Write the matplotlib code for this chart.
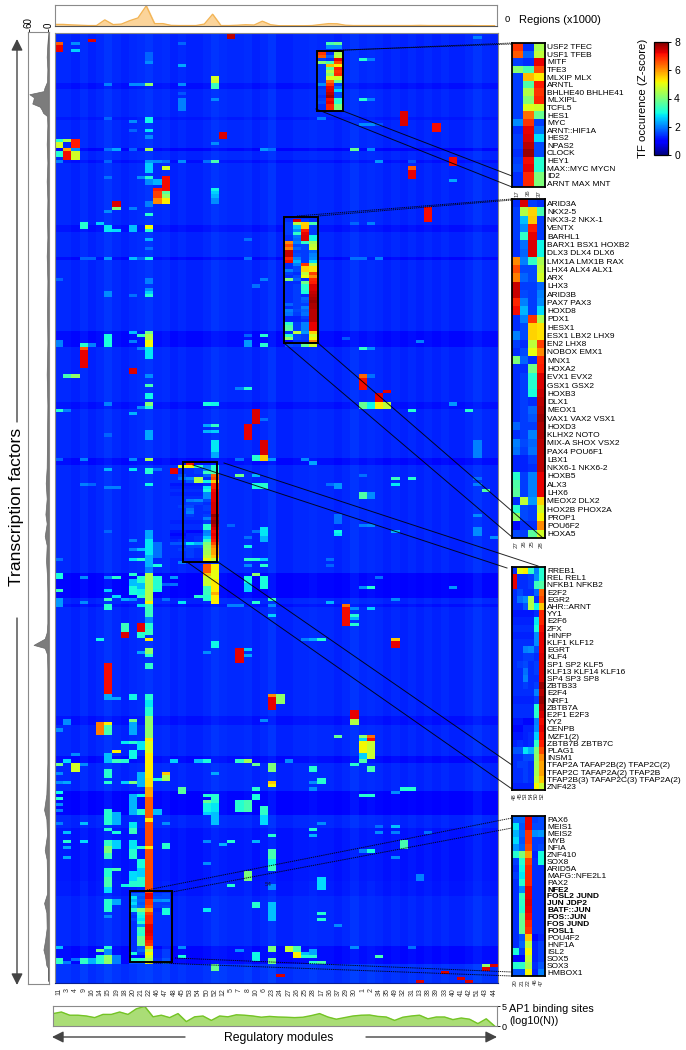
import matplotlib
matplotlib.use("Agg")
import matplotlib.pyplot as plt
import numpy as np
from matplotlib.cm import ScalarMappable
from matplotlib.colors import Normalize
from matplotlib.patches import Rectangle

plt.rcParams['font.family'] = ['Liberation Sans', 'DejaVu Sans']

W, H = 686, 1050
N_ROWS = 306

modules = ["11", "3", "4", "9", "16", "14", "15", "19", "18", "20", "21", "22", "46", "47",
           "48", "45", "53", "54", "50", "52", "12", "5", "7", "8", "10", "6", "23", "24",
           "27", "26", "25", "28", "17", "36", "37", "29", "30", "1", "2", "34", "35", "49",
           "32", "31", "13", "38", "39", "33", "40", "41", "42", "51", "43", "44"]

regions = [1.0, 1.0, 0.7, 0.5, 0.3, 0.3, 3.8, 0.9, 1.2, 3.3, 5.0, 12.5, 1.5, 1.5, 0.4, 0.3,
           0.3, 0.3, 1.2, 7.3, 0.3, 0.3, 0.5, 0.8, 0.6, 3.0, 0.8, 0.2, 0.2, 0.2, 0.2, 0.3,
           0.9, 1.5, 1.4, 0.5, 0.3, 0.3, 0.3, 0.3, 0.3, 0.3, 0.3, 0.3, 0.4, 0.3, 0.3, 0.3,
           0.3, 0.3, 0.3, 0.2, 0.2, 0.2]

ap1_sites = [3.1, 3.5, 2.7, 2.7, 2.5, 2.1, 2.9, 2.9, 3.5, 2.9, 4.3, 4.9, 2.3, 2.7, 2.1, 3.1,
             1.1, 2.3, 2.5, 1.4, 2.5, 2.3, 2.8, 2.7, 2.5, 2.2, 2.4, 2.25, 2.2, 2.1, 2.2, 2.6,
             3.1, 2.25, 1.7, 2.1, 2.5, 2.7, 2.75, 2.4, 2.25, 1.4, 2.2, 2.5, 2.7, 1.8, 2.25,
             2.25, 1.6, 2.0, 1.7, 0.6, 1.8, 0.0]

density_rows = [0, 4, 8, 12, 16, 18, 19, 20, 21, 22, 23, 24, 25, 26, 27, 30, 36, 42, 48, 54, 60,
                66, 72, 80, 90, 100, 110, 120, 130, 140, 145, 150, 155, 158, 162, 165, 170, 175,
                180, 190, 193, 195, 197, 198, 200, 205, 215, 225, 235, 245, 250, 253, 258, 263,
                266, 272, 277, 280, 283, 288, 292, 295, 297, 300, 301, 305]
density_vals = [0, 3, 5, 3, 4, 12, 14, 58, 44, 46, 49, 26, 20, 16, 4, 3, 5, 3, 5, 3, 4,
                3, 5, 3, 4, 3, 5, 3, 4, 5, 8, 5, 9, 5, 11, 5, 7, 4,
                3, 3, 5, 11, 45, 11, 4, 3, 3, 3, 3, 6, 13, 6, 4, 11,
                5, 4, 4, 13, 6, 5, 10, 15, 10, 6, 0, 0]

# resting level of each module column
column_bg = [1.25, 1.25, 1.2, 1.3, 1.2, 1.25, 1.35, 1.25, 1.2, 1.25, 1.3, 1.35, 1.25, 1.3,
             1.2, 1.25, 1.2, 1.2, 1.25, 1.35, 1.3, 1.25, 1.25, 1.3, 1.2, 1.25, 1.35, 1.2,
             1.2, 1.25, 1.25, 1.3, 1.25, 1.25, 1.2, 1.25, 1.35, 1.25, 1.3, 1.25, 1.2, 1.25,
             1.2, 1.25, 1.2, 1.25, 1.2, 1.25, 1.2, 1.2, 1.25, 1.35, 1.25, 1.2]

# rows that are a bit lower over the whole width: first row, last row, drop
dark_rows = [(16, 17, 0.15), (27, 27, 0.1), (37, 37, 0.25), (41, 41, 0.15), (62, 63, 0.15), (72, 72, 0.2),
             (96, 100, 0.2), (119, 120, 0.15), (137, 138, 0.2), (174, 181, 0.25), (184, 184, 0.15),
             (220, 222, 0.15), (233, 234, 0.2), (244, 251, 0.25), (256, 272, 0.12), (273, 277, 0.08),
             (294, 299, 0.2)]

# first row, last row, z-score
hot_spots = {
    "11": [(3, 3, 6.2), (4, 5, 6.9), (34, 34, 3), (35, 36, 4.6), (38, 39, 3), (41, 41, 1.9), (79, 79, 1.7),
           (99, 100, 1.9), (121, 121, 3), (137, 137, 1.7), (169, 169, 1.8), (174, 175, 2.9), (179, 179, 3.2),
           (182, 184, 2.1), (224, 224, 2), (235, 235, 3.7), (238, 238, 2), (241, 241, 2), (244, 244, 2.8),
           (246, 246, 3), (248, 248, 2), (250, 250, 1.9), (254, 254, 1.9), (294, 294, 2.4), (298, 299, 3.1)],
    "3": [(34, 34, 4.2), (37, 37, 5.6), (38, 40, 6.8), (110, 110, 3.3), (121, 121, 1.9), (221, 222, 2),
          (234, 234, 2.6), (241, 241, 2.2), (257, 257, 2.4), (260, 260, 3), (262, 262, 2.2), (265, 265, 2.2),
          (299, 299, 1.9)],
    "4": [(3, 3, 2), (5, 5, 2.5), (34, 36, 6.7), (37, 37, 2), (38, 40, 4.6), (110, 110, 4), (232, 232, 2),
          (235, 237, 4.6), (298, 298, 1.8)],
    "9": [(61, 62, 3), (72, 72, 1.7), (100, 100, 3), (101, 101, 6.2), (102, 107, 6.9), (137, 137, 1.9),
          (145, 145, 1.9), (175, 175, 2), (183, 183, 2), (235, 235, 2), (254, 254, 2.4), (260, 260, 2.6),
          (298, 299, 3.1)],
    "16": [(2, 2, 7), (72, 72, 1.7), (100, 100, 1.9), (145, 145, 1.7), (298, 299, 2.3)],
    "14": [(61, 61, 2.5), (195, 195, 2.8), (222, 225, 5.9), (295, 295, 3.7), (297, 299, 3)],
    "15": [(16, 16, 1.9), (27, 27, 1.7), (37, 37, 1.8), (41, 41, 1.7), (46, 46, 1.8), (57, 57, 2), (62, 63, 2.7),
           (72, 72, 2.1), (83, 84, 2), (97, 100, 2.9), (119, 119, 1.9), (129, 129, 1.7), (140, 140, 2.3),
           (146, 146, 1.9), (160, 160, 1.7), (175, 175, 2), (179, 179, 2.5), (182, 182, 3.2), (184, 185, 3),
           (203, 212, 6.8), (213, 214, 2.2), (222, 222, 5), (223, 225, 3.3), (232, 234, 2.4), (237, 239, 3),
           (241, 241, 3), (250, 254, 3), (256, 256, 3), (260, 261, 3.1), (262, 263, 3.8), (264, 265, 3.2),
           (269, 271, 3.0), (272, 274, 3.3), (275, 276, 2.6), (279, 282, 3), (284, 284, 2), (294, 294, 3),
           (295, 296, 2), (297, 299, 4)],
    "19": [(37, 37, 2.2), (54, 55, 7), (56, 56, 3.8), (63, 63, 2.6), (146, 146, 1.9), (175, 175, 3), (181, 181, 2.6),
           (214, 214, 2.2), (231, 231, 5), (234, 234, 3.2), (251, 254, 2.3), (257, 257, 2.9), (260, 262, 2.5),
           (269, 269, 3.3), (279, 280, 2.2), (297, 299, 1.9)],
    "18": [(182, 182, 2.2), (190, 192, 3.2), (193, 194, 7), (228, 228, 2.7), (234, 234, 3), (241, 241, 2.5),
           (274, 274, 2.8)],
    "20": [(16, 16, 2), (28, 28, 2), (31, 31, 1.7), (37, 37, 1.7), (56, 56, 1.9), (62, 63, 2.4), (72, 72, 2.4),
           (84, 84, 1.8), (96, 96, 2.4), (99, 99, 1.9), (108, 109, 7), (122, 122, 2.3), (137, 137, 2), (140, 140, 2.7),
           (163, 163, 1.9), (166, 166, 1.9), (169, 169, 2.6), (174, 174, 3), (176, 177, 2.4), (178, 180, 2.9),
           (182, 182, 2), (213, 214, 2.8), (221, 221, 3.8), (222, 225, 2.2), (228, 228, 3), (231, 233, 2.8),
           (241, 241, 3.8), (245, 251, 2.3), (254, 255, 2.7), (256, 257, 3.2), (260, 262, 2.7), (263, 265, 3),
           (270, 272, 2.6), (273, 274, 3)],
    "21": [(16, 16, 2), (46, 46, 2), (72, 72, 1.7), (97, 97, 3.2), (101, 101, 1.9), (120, 120, 2), (166, 166, 2.4),
           (169, 169, 3), (175, 176, 3), (177, 178, 2.4), (179, 180, 2.8), (181, 181, 3.1), (184, 184, 2.7),
           (190, 192, 6.9), (193, 194, 3), (199, 199, 2.2), (228, 230, 2.7), (238, 242, 2.3), (245, 245, 2.8),
           (250, 251, 3), (262, 262, 3.1), (266, 268, 2.9), (269, 271, 2.5), (272, 274, 3)],
    "22": [(6, 8, 1.7), (9, 9, 2), (16, 16, 4), (27, 28, 2.8), (31, 31, 2.7), (33, 33, 2), (37, 37, 4.2), (41, 41, 2.1),
           (42, 44, 2.5), (46, 46, 3), (47, 48, 2), (54, 55, 1.9), (58, 58, 3), (62, 62, 4.9), (63, 63, 3), (66, 66, 2.3),
           (69, 69, 1.8), (72, 72, 2.9), (79, 80, 1.9), (82, 82, 2), (83, 83, 2.5), (84, 84, 3), (96, 96, 3.7),
           (97, 98, 4.3), (99, 100, 4.9), (101, 104, 2.7), (110, 110, 2), (113, 113, 3.3), (116, 117, 2.8),
           (119, 119, 3.9), (120, 120, 3), (128, 130, 2.2), (137, 137, 4.2), (140, 141, 3), (145, 145, 2.8),
           (160, 162, 2.2), (163, 167, 2.7), (168, 171, 2.3), (172, 173, 1.9), (174, 182, 4.3), (183, 183, 5),
           (184, 187, 3.2), (188, 189, 2), (190, 191, 3), (192, 193, 3.2), (195, 195, 5), (198, 199, 4), (200, 200, 3),
           (203, 204, 3.1), (213, 214, 3), (215, 216, 2.7), (217, 219, 3), (220, 226, 4), (227, 227, 5),
           (228, 231, 4.7), (232, 239, 5), (240, 242, 5.1), (243, 245, 5.6), (246, 252, 6.2), (253, 253, 5),
           (254, 261, 6.3), (262, 262, 5), (263, 276, 6.3)],
    "46": [(41, 41, 2), (47, 48, 2.3), (50, 50, 6.7), (51, 52, 6.4), (53, 54, 5.8), (140, 140, 1.8), (164, 168, 1.8),
           (171, 171, 2.9), (175, 178, 3), (179, 179, 2.9), (240, 240, 3), (250, 251, 2.4)],
    "47": [(41, 41, 1.8), (43, 43, 4.6), (46, 50, 6.8), (51, 51, 3.5), (52, 52, 4), (53, 54, 5), (177, 177, 1.7),
           (182, 182, 1.8), (238, 238, 5.3), (239, 240, 4.2), (254, 254, 2), (261, 262, 3)],
    "48": [(175, 175, 2.1), (177, 177, 1.8), (234, 234, 2.5)],
    "45": [(3, 3, 1.7), (10, 10, 2.2), (16, 16, 2), (19, 19, 1.6), (21, 24, 1.9), (41, 41, 2), (170, 170, 1.9),
           (183, 183, 2.7), (243, 244, 3.5), (294, 294, 2), (297, 297, 2.9)],
    "53": [(138, 138, 6.8)],
    "54": [(181, 181, 3), (234, 234, 2.4)],
    "50": [(41, 41, 1.8), (119, 119, 2.9), (126, 126, 2.2), (128, 128, 2.3), (171, 173, 6.2), (174, 174, 5.3),
           (175, 177, 4.5), (178, 180, 3.2), (181, 182, 3), (199, 199, 2), (234, 234, 2.9), (245, 245, 3),
           (247, 247, 3.6), (248, 250, 2.8), (251, 251, 2.5), (260, 260, 2), (267, 267, 2), (282, 282, 2.7)],
    "52": [(14, 15, 4.6), (16, 17, 3.2), (21, 21, 2), (35, 35, 2), (41, 41, 3.3), (50, 50, 2.8), (51, 51, 2.5),
           (52, 52, 2.3), (53, 54, 2), (119, 119, 2.8), (126, 126, 3.1), (128, 128, 2.5), (131, 134, 2.7),
           (135, 136, 2.2), (171, 172, 5), (173, 175, 4.8), (176, 179, 5), (180, 180, 5.5), (181, 183, 5),
           (196, 197, 2.8), (238, 238, 2.2), (245, 247, 3), (248, 250, 2.7), (251, 254, 2.4), (300, 301, 3.6)],
    "12": [(32, 33, 7), (261, 261, 2.3)],
    "5": [(0, 1, 7.2), (158, 158, 1.7), (184, 184, 1.9), (260, 260, 3), (274, 274, 3)],
    "7": [(114, 114, 1.9), (137, 137, 1.8), (142, 142, 3.7), (184, 184, 1.9), (198, 202, 6.9), (234, 234, 3.1),
          (247, 250, 3), (295, 295, 2)],
    "8": [(66, 66, 1.8), (72, 72, 1.8), (97, 97, 1.7), (99, 100, 2.1), (114, 114, 3), (126, 130, 6.9), (162, 162, 1.8),
          (165, 165, 2.8), (169, 169, 3.1), (171, 171, 2), (175, 176, 2.9), (177, 179, 2.5), (198, 198, 2.5), (200, 200, 2.2),
          (234, 234, 4.2), (247, 250, 3.3), (270, 272, 3.8)],
    "10": [(81, 81, 1.8), (121, 125, 7), (136, 137, 3), (142, 142, 2.3), (145, 146, 2.9), (160, 160, 1.8), (169, 169, 3),
           (174, 174, 4), (183, 183, 3), (235, 235, 3.6), (243, 243, 3), (245, 246, 2.9), (260, 260, 2.3),
           (280, 281, 3), (296, 298, 2.8)],
    "6": [(37, 37, 2.1), (79, 79, 1.9), (97, 97, 3), (100, 100, 3), (124, 124, 1.8), (131, 135, 7), (136, 137, 5.3),
          (145, 146, 3), (159, 161, 2.7), (162, 163, 2.3), (169, 169, 2.5), (171, 171, 3), (175, 178, 2.9), (221, 221, 2),
          (249, 251, 3.1), (252, 254, 2.6)],
    "23": [(37, 37, 1.8), (137, 137, 2.1), (182, 182, 3.2), (184, 184, 2), (187, 187, 2.5), (213, 213, 5.8),
           (214, 217, 6.9), (235, 237, 3.8), (241, 241, 5.3), (242, 242, 4.9), (258, 258, 3), (263, 265, 3.3),
           (266, 267, 2.8), (268, 269, 3.2), (274, 275, 2), (280, 285, 2.4), (294, 295, 3.8), (298, 299, 3.7)],
    "24": [(213, 215, 4), (303, 303, 7)],
    "27": [(234, 234, 2), (294, 295, 4.5)],
    "26": [(294, 295, 3.3), (296, 297, 5)],
    "25": [(137, 137, 2), (195, 195, 1.9), (296, 296, 2.4), (297, 297, 3)],
    "28": [(138, 138, 2.2), (195, 195, 2.2), (236, 237, 3), (241, 241, 2), (243, 243, 2), (256, 256, 3), (258, 258, 2.3),
           (295, 296, 2.2), (297, 297, 3), (299, 299, 3)],
    "17": [(27, 27, 1.9), (195, 195, 3), (240, 241, 3), (254, 254, 2), (272, 275, 2.6), (283, 283, 3), (285, 285, 3),
           (299, 299, 3.3)],
    "36": [(3, 3, 3.3), (4, 4, 2), (145, 145, 1.8), (169, 169, 1.8), (171, 171, 1.7), (183, 183, 2.3)],
    "37": [(3, 3, 3.6), (4, 4, 2), (145, 146, 2.1), (155, 157, 1.8), (160, 160, 2.8), (161, 161, 2.7), (226, 226, 3.6),
           (287, 287, 2)],
    "29": [(98, 98, 1.6), (184, 184, 6), (185, 190, 6.8)],
    "30": [(37, 37, 3.6), (61, 61, 1.7), (72, 72, 1.8), (185, 185, 2), (187, 187, 3), (188, 188, 2.3), (190, 190, 3),
           (218, 220, 6.9), (221, 222, 4.3), (235, 235, 3), (294, 294, 2)],
    "1": [(8, 8, 3), (21, 21, 3), (29, 29, 2), (72, 72, 1.8), (101, 101, 3.1), (110, 110, 6.1), (111, 114, 6.8),
          (119, 120, 3.6), (142, 142, 1.8), (148, 149, 3.4), (158, 158, 1.9), (178, 178, 2), (226, 226, 4), (227, 227, 2.5),
          (228, 231, 4.9), (232, 233, 2.5), (234, 234, 3.4), (245, 245, 3), (263, 263, 1.9)],
    "2": [(8, 8, 1.9), (21, 21, 1.9), (29, 29, 2), (37, 37, 2), (61, 61, 1.9), (101, 101, 2), (110, 110, 1.8),
          (119, 120, 2.8), (148, 149, 2), (158, 158, 2), (178, 178, 3), (185, 185, 2.5), (226, 226, 6), (227, 227, 6.8),
          (228, 233, 4.5), (236, 237, 3.3), (245, 245, 3), (263, 263, 2.9)],
    "34": [(29, 29, 1.6), (41, 41, 2.1), (72, 72, 1.9), (116, 118, 6.9), (119, 120, 5), (175, 175, 1.8), (255, 255, 1.8),
           (257, 257, 2), (297, 297, 3.3)],
    "35": [(115, 115, 6.9), (119, 120, 4.4)],
    "49": [(143, 143, 3.2), (145, 145, 2.7), (160, 160, 2.3), (182, 182, 2), (195, 195, 5.3), (196, 197, 6.9),
           (244, 244, 2), (255, 255, 2.4), (257, 257, 1.9), (265, 265, 2)],
    "32": [(25, 29, 7), (243, 243, 3), (260, 262, 3.3)],
    "31": [(41, 41, 1.6), (43, 43, 6.2), (44, 46, 6.9), (121, 121, 3), (143, 143, 3), (243, 243, 3), (294, 294, 1.8)],
    "13": [(99, 99, 1.9), (271, 272, 1.9), (305, 305, 7)],
    "38": [(56, 60, 6.8), (257, 257, 1.8)],
    "39": [(29, 31, 6.8)],
    "33": [(302, 302, 7)],
    "40": [(40, 42, 6.8), (47, 47, 2.2), (119, 119, 2.1), (178, 178, 2.1)],
    "41": [(304, 304, 7)],
    "42": [(121, 121, 3), (305, 305, 7)],
    "51": [(1, 1, 1.9), (131, 136, 1.9), (143, 143, 1.8), (145, 145, 1.9), (155, 155, 2), (159, 161, 2)],
    "43": [(147, 147, 3.4), (300, 300, 4), (301, 301, 7)],
    "44": [(162, 162, 2), (300, 300, 7)],
}

inset1_modules = ["17", "36", "37"]
inset1_first_row = 6
inset1_tfs = ["USF2 TFEC", "USF1 TFEB", "MITF", "TFE3", "MLXIP MLX", "ARNTL", "BHLHE40 BHLHE41", "MLXIPL",
              "TCFL5", "HES1", "MYC", "ARNT::HIF1A", "HES2", "NPAS2", "CLOCK", "HEY1", "MAX::MYC MYCN", "ID2",
              "ARNT MAX MNT"]
inset1_z = [[6.5, 1.3, 4.2], [6.2, 1.7, 4.4], [1.4, 1.3, 6.9], [3.9, 3.3, 6.3], [1.4, 5.4, 5.0], [1.4, 3.4, 6.7],
            [1.4, 4.3, 6.5], [1.4, 3.9, 6.6], [1.4, 4.7, 4.6], [1.4, 6.0, 3.6], [2.0, 6.5, 1.4], [1.3, 6.9, 1.8],
            [1.4, 7.0, 2.6], [1.4, 7.2, 1.5], [1.3, 7.4, 1.5], [1.4, 6.8, 3.0], [1.5, 6.9, 3.0], [1.3, 6.6, 3.8],
            [1.3, 6.6, 3.8]]

inset2_modules = ["27", "26", "25", "28"]
inset2_first_row = 60
inset2_tfs = ["ARID3A", "NKX2-5", "NKX3-2 NKX-1", "VENTX", "BARHL1", "BARX1 BSX1 HOXB2", "DLX3 DLX4 DLX6",
              "LMX1A LMX1B RAX", "LHX4 ALX4 ALX1", "ARX", "LHX3", "ARID3B", "PAX7 PAX3", "HOXD8", "PDX1", "HESX1",
              "ESX1 LBX2 LHX9", "EN2 LHX8", "NOBOX EMX1", "MNX1", "HOXA2", "EVX1 EVX2", "GSX1 GSX2", "HOXB3", "DLX1",
              "MEOX1", "VAX1 VAX2 VSX1", "HOXD3", "KLHX2 NOTO", "MIX-A SHOX VSX2", "PAX4 POU6F1", "LBX1",
              "NKX6-1 NKX6-2", "HOXB5", "ALX3", "LHX6", "MEOX2 DLX2", "HOX2B PHOX2A", "PROP1", "POU6F2", "HOXA5"]
inset2_z = [[1.3, 7.0, 1.4, 1.3], [1.4, 4.3, 5.2, 3.3], [1.4, 2.4, 5.3, 1.4], [1.4, 2.0, 6.7, 1.4], [1.4, 3.1, 6.9, 1.4],
            [1.3, 1.8, 7.0, 2.8], [1.3, 1.7, 7.0, 2.8], [5.8, 1.9, 3.1, 4.2], [6.3, 1.5, 1.5, 4.4], [5.9, 1.7, 1.5, 4.6],
            [7.1, 1.4, 1.4, 1.7], [7.1, 1.5, 1.4, 1.9], [6.6, 1.9, 1.4, 2.0], [6.8, 2.3, 1.4, 2.6], [1.3, 1.9, 6.5, 4.2],
            [1.3, 1.5, 5.2, 5.1], [1.9, 1.5, 5.2, 5.1], [1.4, 1.3, 4.4, 6.4], [1.3, 1.5, 4.8, 5.8], [3.8, 1.7, 1.3, 6.6],
            [1.3, 1.3, 3.7, 6.7], [1.3, 1.4, 3.0, 7.0], [1.3, 1.4, 3.0, 7.0], [1.3, 1.4, 2.9, 7.1], [1.3, 1.4, 1.3, 7.2],
            [1.3, 1.4, 1.7, 7.3], [1.3, 1.4, 1.6, 7.4], [1.7, 1.4, 1.4, 7.3], [1.3, 1.4, 1.9, 7.3], [1.9, 1.5, 1.7, 7.2],
            [1.8, 1.4, 1.8, 7.2], [1.2, 1.2, 1.4, 7.2], [1.2, 1.2, 1.3, 7.2], [3.0, 1.4, 1.9, 6.9], [3.4, 1.4, 1.9, 6.9],
            [3.5, 1.4, 1.9, 6.9], [1.3, 4.4, 2.1, 5.2], [3.0, 1.5, 1.4, 4.6], [4.0, 1.5, 1.4, 4.9], [1.0, 1.3, 1.3, 5.8],
            [1.5, 1.4, 3.5, 4.6]]

inset3_modules = ["48", "45", "53", "54", "50", "52"]
inset3_first_row = 139
inset3_tfs = ["RREB1", "REL REL1", "NFKB1 NFKB2", "E2F2", "EGR2", "AHR::ARNT", "YY1", "E2F6", "ZFX", "HINFP",
              "KLF1 KLF12", "EGRT", "KLF4", "SP1 SP2 KLF5", "KLF13 KLF14 KLF16", "SP4 SP3 SP8", "ZBTB33", "E2F4", "NRF1",
              "ZBTB7A", "E2F1 E2F3", "YY2", "CENPB", "MZF1(2)", "ZBTB7B ZBTB7C", "PLAG1", "INSM1",
              "TFAP2A TAFAP2B(2) TFAP2C(2)", "TFAP2C TAFAP2A(2) TFAP2B", "TFAP2B(3) TAFAP2C(3) TFAP2A(2)", "ZNF423"]
inset3_z = [[1.3, 4.8, 5.0, 3.1, 1.9, 3.0], [6.9, 1.3, 1.3, 1.4, 2.0, 3.0], [6.9, 1.3, 1.3, 1.4, 3.2, 3.4],
            [1.3, 1.5, 1.3, 1.3, 1.7, 6.1], [1.3, 1.8, 2.0, 4.3, 1.3, 6.3], [1.3, 1.3, 1.6, 4.3, 2.8, 5.3],
            [1.1, 1.1, 1.1, 1.1, 1.3, 6.6], [1.2, 1.2, 1.2, 1.2, 2.7, 6.6], [1.3, 1.3, 1.3, 1.3, 2.9, 6.8],
            [1.2, 1.2, 1.2, 1.2, 2.0, 6.9], [1.3, 1.3, 1.3, 1.3, 2.0, 6.9], [1.3, 1.3, 1.9, 2.0, 1.5, 6.9],
            [1.3, 1.3, 1.4, 1.4, 1.3, 7.0], [1.3, 1.4, 1.5, 1.3, 1.4, 7.0], [1.3, 1.3, 1.8, 1.3, 1.4, 7.0],
            [1.3, 1.3, 1.9, 1.3, 1.3, 7.0], [1.3, 1.3, 1.4, 1.3, 1.4, 7.4], [1.3, 1.3, 1.3, 1.3, 1.9, 7.2],
            [1.2, 1.2, 1.2, 1.2, 1.4, 7.4], [1.3, 1.3, 1.3, 1.3, 3.0, 7.2], [1.3, 1.3, 1.3, 1.3, 3.0, 7.0],
            [1.1, 1.1, 1.0, 1.0, 1.9, 6.8], [1.0, 1.0, 1.2, 1.2, 2.0, 6.9], [1.1, 1.1, 1.2, 1.3, 2.5, 6.8],
            [1.2, 1.3, 1.2, 1.3, 3.1, 6.7], [1.6, 1.6, 2.7, 2.3, 3.8, 6.3], [1.3, 1.3, 1.5, 1.5, 4.0, 5.8],
            [1.3, 1.4, 1.4, 1.3, 4.1, 5.6], [1.3, 1.3, 1.4, 1.3, 4.2, 5.6], [1.3, 1.3, 1.4, 1.3, 4.4, 5.3],
            [1.2, 1.2, 1.2, 1.2, 4.9, 4.5]]

inset4_modules = ["20", "21", "22", "46", "47"]
inset4_first_row = 277
inset4_tfs = ["PAX6", "MEIS1", "MEIS2", "MYB", "NFIA", "ZNF410", "SOX8", "ARID5A", "MAFG::NFE2L1", "PAX2", "NFE2",
              "FOSL2 JUND", "JUN JDP2", "BATF::JUN", "FOS::JUN", "FOS JUND", "FOSL1", "POU4F2", "HNF1A", "ISL2", "SOX5",
              "SOX3", "HMBOX1"]
inset4_bold = ["NFE2", "FOSL2 JUND", "JUN JDP2", "BATF::JUN", "FOS::JUN", "FOS JUND", "FOSL1"]
inset4_z = [[1.7, 1.7, 6.9, 1.4, 1.5], [2.7, 1.6, 6.9, 1.5, 1.5], [2.3, 1.7, 6.5, 2.0, 2.1], [2.6, 1.6, 6.5, 1.4, 1.4],
            [2.1, 1.7, 6.3, 1.4, 1.5], [3.0, 3.8, 5.6, 1.2, 2.9], [1.4, 3.0, 6.4, 1.3, 2.9], [1.3, 2.8, 6.6, 1.3, 1.3],
            [1.4, 2.7, 6.6, 1.3, 1.3], [1.3, 3.0, 6.6, 1.3, 1.3], [1.3, 2.0, 6.9, 1.3, 1.3], [1.3, 3.2, 6.9, 1.3, 1.3],
            [1.3, 3.1, 7.0, 1.3, 1.3], [1.3, 3.0, 6.9, 1.3, 1.3], [1.3, 3.6, 6.8, 1.3, 1.3], [1.3, 3.6, 6.6, 1.3, 1.3],
            [1.3, 3.6, 6.5, 1.3, 1.3], [1.3, 1.6, 5.3, 1.0, 1.2], [1.3, 1.7, 4.4, 1.2, 1.4], [2.9, 1.4, 4.9, 1.2, 1.4],
            [1.0, 1.0, 4.5, 1.2, 1.4], [3.0, 3.1, 4.2, 1.3, 1.6], [1.6, 1.6, 4.9, 1.2, 1.9]]


def px_axes(x0, y0, x1, y1):
    # axes from pixel box, y counted from the top of the image
    return fig.add_axes([x0 / W, 1 - y1 / H, (x1 - x0) / W, (y1 - y0) / H])


# assemble the main matrix
matrix = np.tile(np.array(column_bg), (N_ROWS, 1))
for first, last, drop in dark_rows:
    matrix[first:last + 1, :] -= drop
matrix[300:, :] += 0.1
for mod, spots in hot_spots.items():
    col = modules.index(mod)
    for first, last, z in spots:
        matrix[first:last + 1, col] = z
insets = [(inset1_modules, inset1_first_row, inset1_z),
          (inset2_modules, inset2_first_row, inset2_z),
          (inset3_modules, inset3_first_row, inset3_z),
          (inset4_modules, inset4_first_row, inset4_z)]
for mods, first, z in insets:
    cols = [modules.index(m) for m in mods]
    for k, row in enumerate(z):
        matrix[first + k, cols] = row

fig = plt.figure(figsize=(W / 100, H / 100), dpi=100)

# reds in the cells run darker than the bar suggests, so the cells saturate a bit earlier
CELL_VMAX = 7.6

ax = px_axes(55, 33, 498, 983)
ax.imshow(matrix, cmap="jet", vmin=0, vmax=CELL_VMAX, aspect="auto", interpolation="nearest")
ax.set_yticks([])
ax.set_xticks(np.arange(len(modules)))
ax.set_xticklabels(modules, rotation=90, fontsize=5, color="#333333")
ax.tick_params(axis="x", length=0, pad=3.5)
for s in ax.spines.values():
    s.set_color("#8a8a8a")
    s.set_linewidth(0.8)
ax.spines["bottom"].set_color("#0a1f8f")

# regions per module, top strip
ax_top = px_axes(55, 5, 497, 26)
xs = np.arange(len(modules))
ax_top.fill_between(xs, regions, color="#fbd49a")
ax_top.plot(xs, regions, color="#f2b455", lw=0.9)
ax_top.set_xlim(0, 53.3)
ax_top.set_ylim(0, 13)
ax_top.set_xticks([])
ax_top.set_yticks([])
for s in ax_top.spines.values():
    s.set_color("#8a8a8a")
    s.set_linewidth(0.8)
ax_top.spines["bottom"].set_color("#555555")

# AP1 sites per module, bottom strip
ax_bot = px_axes(53, 1006, 497, 1026)
ax_bot.fill_between(xs, ap1_sites, color="#aadd76")
ax_bot.plot(xs, ap1_sites, color="#74c425", lw=1)
ax_bot.set_xlim(0, 53.3)
ax_bot.set_ylim(0, 5)
ax_bot.set_xticks([])
ax_bot.yaxis.tick_right()
ax_bot.set_yticks([0, 5])
ax_bot.tick_params(axis="y", length=2, width=0.6, labelsize=6.5, pad=1.5)
for s in ax_bot.spines.values():
    s.set_color("#8a8a8a")
    s.set_linewidth(0.8)

# occurrence of TFs, left strip
ax_left = px_axes(28, 32, 49, 984)
ax_left.fill_betweenx(density_rows, density_vals, color="#7c7c7c", lw=0.5, edgecolor="#666666")
ax_left.set_xlim(62, -2)
ax_left.set_ylim(N_ROWS, 0)
ax_left.set_yticks([])
ax_left.xaxis.tick_top()
ax_left.set_xticks([60, 0])
ax_left.set_xticklabels(["60", "0"], rotation=90, fontsize=7)
ax_left.tick_params(axis="x", length=2, width=0.6, pad=1)
for s in ax_left.spines.values():
    s.set_color("#8a8a8a")
    s.set_linewidth(0.8)

# zoomed insets on the right
inset_boxes = [(512, 43, 545, 187), (512, 199, 545, 538), (512, 567, 545, 790), (512, 816, 545, 976)]
inset_tfs = [inset1_tfs, inset2_tfs, inset3_tfs, inset4_tfs]
for (mods, first, z), box, tfs in zip(insets, inset_boxes, inset_tfs):
    a = px_axes(*box)
    a.imshow(np.array(z), cmap="jet", vmin=0, vmax=CELL_VMAX, aspect="auto", interpolation="nearest")
    a.set_xticks(np.arange(len(mods)))
    a.set_xticklabels(mods, rotation=90, fontsize=4.3, color="#333333")
    a.yaxis.tick_right()
    a.set_yticks(np.arange(len(tfs)))
    a.set_yticklabels(tfs, fontsize=6)
    a.tick_params(axis="both", length=0)
    a.tick_params(axis="y", pad=1.5)
    a.tick_params(axis="x", pad=2)
    for lab in a.get_yticklabels():
        if lab.get_text() in inset4_bold:
            lab.set_fontweight("bold")
    for s in a.spines.values():
        s.set_linewidth(1.3)

# colour bar
cax = px_axes(654, 42, 668, 155)
cb = fig.colorbar(ScalarMappable(Normalize(0, 8), "jet"), cax=cax)
cb.set_ticks([0, 2, 4, 6, 8])
cb.ax.tick_params(length=2.5, width=0.7, labelsize=7.5, pad=2)
cb.outline.set_linewidth(0.9)
cb.set_label("TF occurence (Z-score)", fontsize=8.2, labelpad=4)
cb.ax.yaxis.set_label_position("left")

# everything annotated in image pixels goes on a top layer
over = fig.add_axes([0, 0, 1, 1], facecolor="none")
over.set_xlim(0, W)
over.set_ylim(H, 0)
over.axis("off")

zoom_frames = [(317, 51, 343, 111), (284, 217, 318, 343), (183, 462, 217, 562), (130, 891, 172, 962)]
for x0, y0, x1, y1 in zoom_frames:
    over.add_patch(Rectangle((x0, y0), x1 - x0, y1 - y0, fill=False, ec="black", lw=1.4))

dotted = (0, (1.4, 0.8))
connectors = [((325, 51), (512, 43), dotted), ((343, 50), (512, 44), dotted),
              ((316, 109), (512, 187), "-"), ((343, 111), (512, 176), "-"),
              ((297, 216), (512, 199), dotted), ((318, 216), (512, 200), dotted),
              ((284, 343), (512, 537), "-"), ((318, 343), (543, 538), "-"),
              ((224, 463), (538, 566), "-"), ((193, 465), (507, 568), "-"),
              ((187, 562), (512, 789), "-"), ((218, 562), (512, 765), "-"),
              ((147, 890), (512, 818), dotted), ((172, 892), (512, 828), dotted),
              ((175, 958), (512, 972), dotted), ((130, 962), (512, 976), dotted)]
for p0, p1, style in connectors:
    over.plot([p0[0], p1[0]], [p0[1], p1[1]], color="black", lw=0.7, ls=style, alpha=0.85)

over.text(268, 884, "54", fontsize=4.5, color="#111133", ha="center", va="center")

head = dict(arrowstyle="-|>", color="#444444", lw=1.0, mutation_scale=17, shrinkA=0, shrinkB=0)
over.annotate("", xy=(17, 39), xytext=(17, 422), arrowprops=head)
over.annotate("", xy=(17, 985), xytext=(17, 618), arrowprops=head)
over.annotate("", xy=(52, 1037), xytext=(185, 1037), arrowprops=head)
over.annotate("", xy=(497, 1037), xytext=(366, 1037), arrowprops=head)

over.text(17, 507, "Transcription factors", rotation=90, fontsize=12.6, ha="center", va="center")
over.text(279, 1038, "Regulatory modules", fontsize=8.8, ha="center", va="center")
over.text(507, 20, "0", fontsize=6.8, ha="center", va="center")
over.text(519, 20, "Regions (x1000)", fontsize=8, ha="left", va="center")
over.text(509, 1009, "AP1 binding sites", fontsize=7.8, ha="left", va="center")
over.text(509, 1021, "(log10(N))", fontsize=7.8, ha="left", va="center")

fig.savefig("out.png", dpi=100)
